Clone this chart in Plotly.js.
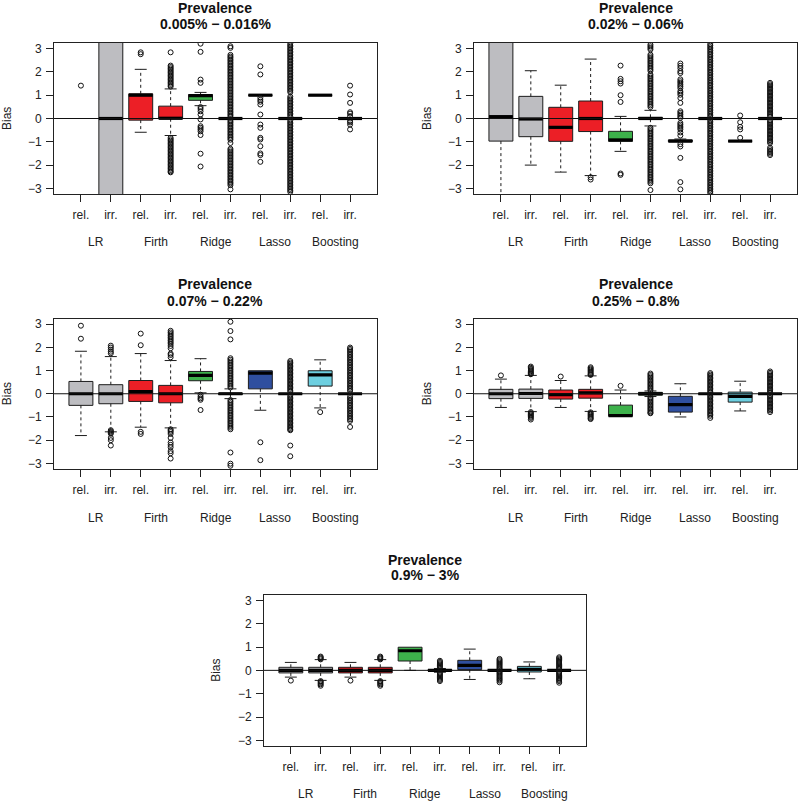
<!DOCTYPE html>
<html><head><meta charset="utf-8">
<script src="https://cdn.plot.ly/plotly-3.0.1.min.js"></script>
<style>html,body{margin:0;padding:0;background:#fff}#chart{width:800px;height:802px}</style>
</head><body><div id="chart"></div>
<script>
// ---------------- data ----------------
const positions = [1, 2, 3, 4, 5, 6, 7, 8, 9, 10];
const tickLabels = ['rel.', 'irr.', 'rel.', 'irr.', 'rel.', 'irr.', 'rel.', 'irr.', 'rel.', 'irr.'];
const groupLabels = ['LR', 'Firth', 'Ridge', 'Lasso', 'Boosting'];
const groupCenters = [1.5, 3.5, 5.5, 7.5, 9.5];
const yTickVals = [-3, -2, -1, 0, 1, 2, 3];
const titleLine1 = 'Prevalence';
const panelRanges = ['0.005% \u2212 0.016%', '0.02% \u2212 0.06%', '0.07% \u2212 0.22%', '0.25% \u2212 0.8%', '0.9% \u2212 3%'];
const yLabel = 'Bias';

// Panel 1: 0.005% - 0.016%
const p1Q1  = [null, -4, -0.07, -0.01, 0.78, 0, 1, 0, 1, 0];
const p1Med = [null, 0, 1.0, 0.01, 0.98, 0, 1, 0, 1, 0];
const p1Q3  = [null, 4, 1.06, 0.53, 1.03, 0, 1, 0, 1, 0];
const p1Lo  = [null, -4, -0.59, -0.73, 0.55, 0, 1, 0, 1, 0];
const p1Hi  = [null, 4, 2.11, 1.27, 1.12, 0, 1, 0, 1, 0];
const p1Out = [
  [1.41],
  [],
  [2.84, 2.76],
  [2.84, 2.27, 2.21, 2.15, 2.09, 2.03, 1.97, 1.91, 1.85, 1.79, 1.73, 1.67, 1.61, 1.55, 1.49, 1.43, 1.37,
   -0.83, -0.89, -0.95, -1.01, -1.07, -1.13, -1.19, -1.25, -1.31, -1.37, -1.43, -1.49, -1.55, -1.61, -1.67, -1.73, -1.79, -1.85, -1.91, -1.97, -2.03, -2.09, -2.15, -2.21, -2.27, -2.31],
  [3.21, 2.86, 1.67, 1.53, 0.49, 0.41, 0.31, 0.17, -0.04, -0.33, -0.4, -0.47, -0.55, -0.71, -1.51, -2.06],
  [3.1, 3.03, 2.73, 2.66, 2.6, 2.53, 2.47, 2.4, 2.34, 2.27, 2.21, 2.14, 2.08, 2.01, 1.95, 1.88, 1.82, 1.75, 1.69, 1.62, 1.56, 1.49, 1.43, 1.36, 1.3, 1.23, 1.17, 1.1, 1.04, 0.97, 0.91, 0.84, 0.78, 0.71, 0.65, 0.58, 0.52, 0.45, 0.39, 0.32, 0.26, 0.19, 0.13, 0.06,
   -0.06, -0.13, -0.19, -0.26, -0.32, -0.39, -0.45, -0.52, -0.58, -0.65, -0.71, -0.78, -0.84, -0.91, -1.05, -1.3, -1.36, -1.43, -1.49, -1.56, -1.62, -1.69, -1.75, -1.82, -1.88, -1.95, -2.01, -2.08, -2.14, -2.21, -2.27, -2.34, -2.4, -2.47, -2.53, -2.6, -2.66, -2.73, -2.79, -2.86, -3.04],
  [2.24, 1.89, 0.89, 0.8, 0.72, 0.6, 0.17, -0.26, -0.4, -0.83, -0.9, -1.19, -1.5, -1.57, -1.86],
  [3.21, 3.14, 3.08, 3.01, 2.95, 2.88, 2.82, 2.75, 2.69, 2.62, 2.56, 2.49, 2.43, 2.36, 2.3, 2.23, 2.17, 2.1, 2.04, 1.97, 1.91, 1.84, 1.78, 1.71, 1.65, 1.58, 1.52, 1.45, 1.39, 1.32, 1.26, 1.19, 1.13, 0.94, 0.87, 0.81, 0.74, 0.68, 0.61, 0.55, 0.48, 0.42, 0.35, 0.29, 0.22, 0.16, 0.09,
   -0.09, -0.16, -0.22, -0.29, -0.35, -0.42, -0.48, -0.55, -0.61, -0.68, -0.74, -0.81, -0.87, -0.94, -1.0, -1.07, -1.13, -1.2, -1.26, -1.33, -1.39, -1.46, -1.52, -1.59, -1.65, -1.72, -1.78, -1.85, -1.91, -1.98, -2.04, -2.11, -2.17, -2.24, -2.3, -2.37, -2.43, -2.5, -2.56, -2.63, -2.69, -2.76, -2.82, -2.89, -2.95, -3.02, -3.08, -3.15],
  [],
  [1.41, 1.03, 0.67, 0.27, 0.21, 0.1, -0.11, -0.17, -0.26, -0.47]
];

// Panel 2: 0.02% - 0.06%
const p2Q1  = [-0.97, -0.78, -0.98, -0.56, -0.98, -0.03, -1.0, 0, -0.97, 0];
const p2Med = [0.08, -0.02, -0.38, 0.0, -0.92, 0.0, -0.97, 0, -0.97, 0];
const p2Q3  = [4, 0.95, 0.48, 0.75, -0.55, 0.05, -0.92, 0, -0.97, 0];
const p2Lo  = [-4, -2.0, -2.3, -2.45, -1.41, -0.32, -1.0, 0, -0.97, 0];
const p2Hi  = [4, 2.05, 1.43, 2.55, 0.09, 0.35, -0.88, 0, -0.97, 0];
const p2Out = [
  [],
  [],
  [],
  [-2.52, -2.62],
  [2.27, 1.7, 1.6, 1.5, 1.0, 0.71, -2.36, -2.42],
  [3.17, 3.1, 3.03, 2.96, 2.74, 2.67, 2.6, 2.53, 2.46, 2.39, 2.32, 2.25, 2.18, 2.11, 2.04, 1.89, 1.82, 1.75, 1.68, 1.61, 1.54, 1.47, 1.4, 1.33, 1.26, 1.19, 1.12, 1.05, 0.98, 0.91, 0.84, 0.77, 0.7, 0.63, 0.56, 0.49,
   -0.4, -0.47, -0.54, -0.61, -0.68, -0.75, -0.82, -0.89, -0.96, -1.03, -1.1, -1.17, -1.24, -1.31, -1.38, -1.45, -1.52, -1.59, -1.66, -1.73, -1.8, -1.87, -1.94, -2.01, -2.08, -2.15, -2.22, -2.29, -2.36, -2.43, -2.5, -2.57, -2.64, -2.71, -2.78, -3.07],
  [2.36, 2.26, 2.16, 2.03, 1.95, 1.68, 1.6, 1.53, 1.45, 1.38, 1.3, 1.17, 1.1, 1.02, 0.88, 0.67, 0.31, 0.24, 0.17, 0.1, 0.03, -0.19, -0.26, -0.33, -0.4, -0.47, -0.6, -0.73, -1.1, -1.2, -1.69, -2.73, -3.04],
  [3.2, 3.13, 3.06, 2.99, 2.92, 2.85, 2.78, 2.71, 2.64, 2.57, 2.5, 2.43, 2.36, 2.29, 2.22, 2.15, 2.08, 2.01, 1.94, 1.87, 1.8, 1.73, 1.66, 1.59, 1.52, 1.45, 1.38, 1.31, 1.24, 1.17, 1.1, 1.03, 0.96, 0.89, 0.82, 0.75, 0.68, 0.61, 0.54, 0.47, 0.4, 0.33, 0.26, 0.19, 0.12, 0.05,
   -0.05, -0.12, -0.19, -0.26, -0.33, -0.4, -0.47, -0.54, -0.61, -0.68, -0.75, -0.82, -0.89, -0.96, -1.03, -1.1, -1.17, -1.24, -1.31, -1.38, -1.45, -1.52, -1.59, -1.66, -1.73, -1.8, -1.87, -1.94, -2.01, -2.08, -2.15, -2.22, -2.29, -2.36, -2.43, -2.5, -2.57, -2.64, -2.71, -2.78, -2.85, -2.92, -2.99, -3.06, -3.13, -3.2],
  [0.13, -0.16, -0.36, -0.47, -0.83],
  [1.53, 1.47, 1.41, 1.35, 1.29, 1.23, 1.17, 1.11, 1.05, 0.99, 0.93, 0.87, 0.81, 0.75, 0.69, 0.63, 0.57, 0.51, 0.45, 0.39, 0.33, 0.27, 0.21, 0.15, 0.09,
   -0.09, -0.15, -0.21, -0.27, -0.33, -0.39, -0.45, -0.51, -0.57, -0.63, -0.69, -0.75, -0.81, -0.87, -0.93, -0.99, -1.05, -1.25, -1.32, -1.39, -1.45, -1.51, -1.57]
];

// Panel 3: 0.07% - 0.22%
const p3Q1  = [-0.5, -0.43, -0.33, -0.39, 0.56, -0.03, 0.21, 0, 0.33, 0];
const p3Med = [0, 0, 0.09, 0, 0.79, 0, 0.89, 0, 0.81, 0];
const p3Q3  = [0.53, 0.39, 0.57, 0.36, 0.96, 0.03, 0.99, 0, 0.99, 0];
const p3Lo  = [-1.8, -1.64, -1.44, -1.47, 0.04, -0.21, -0.71, 0, -0.61, 0];
const p3Hi  = [1.83, 1.6, 1.73, 1.43, 1.51, 0.21, 0.99, 0, 1.46, 0];
const p3Out = [
  [2.93, 2.37],
  [2.07, 1.99, 1.9, 1.81, 1.74, -1.57, -1.62, -1.67, -1.72, -1.9, -2.0, -2.23],
  [2.59, 2.09, -1.64, -1.73],
  [2.71, 2.64, 2.57, 2.5, 2.43, 2.36, 2.29, 2.22, 2.15, 2.06, 1.96, 1.73, 1.67, 1.57,
   -1.53, -1.59, -1.65, -1.73, -1.9, -2.1, -2.2, -2.3, -2.47, -2.56, -2.79],
  [-0.04, -0.13, -0.2, -0.26, -0.7],
  [3.1, 2.7, 2.34, 1.53, 1.46, 1.39, 1.32, 1.25, 1.18, 1.11, 1.04, 0.97, 0.9, 0.83, 0.76, 0.69, 0.62, 0.55, 0.48, 0.41, 0.34, 0.27,
   -0.27, -0.34, -0.41, -0.48, -0.55, -0.62, -0.69, -0.76, -0.83, -0.9, -0.97, -1.04, -1.11, -1.18, -1.25, -1.32, -1.39, -1.46, -1.53, -2.53, -3.01, -3.1],
  [-2.09, -2.86],
  [1.41, 1.35, 1.29, 1.23, 1.17, 1.11, 1.05, 0.99, 0.93, 0.87, 0.81, 0.75, 0.69, 0.63, 0.57, 0.51, 0.45, 0.39, 0.33, 0.27, 0.21, 0.15, 0.09,
   -0.09, -0.15, -0.21, -0.27, -0.33, -0.39, -0.45, -0.51, -0.57, -0.63, -0.69, -0.75, -0.81, -0.87, -0.93, -0.99, -1.05, -1.11, -1.17, -1.23, -1.29, -1.35, -1.41, -1.47, -1.53, -1.57, -2.23, -2.69],
  [-0.79],
  [1.99, 1.93, 1.87, 1.8, 1.73, 1.66, 1.59, 1.52, 1.45, 1.38, 1.31, 1.24, 1.17, 1.1, 1.03, 0.96, 0.89, 0.82, 0.75, 0.68, 0.61, 0.54, 0.47, 0.4, 0.33, 0.26, 0.19, 0.12,
   -0.12, -0.19, -0.26, -0.33, -0.4, -0.47, -0.54, -0.61, -0.68, -0.75, -0.82, -0.89, -0.96, -1.03, -1.1, -1.17, -1.43]
];

// Panel 4: 0.25% - 0.8%
const p4Q1  = [-0.21, -0.2, -0.23, -0.19, -0.97, -0.06, -0.79, 0, -0.36, 0];
const p4Med = [0, 0.01, -0.04, 0.04, -0.94, 0, -0.47, 0, -0.11, 0];
const p4Q3  = [0.19, 0.2, 0.16, 0.19, -0.49, 0.06, -0.11, 0, 0.07, 0];
const p4Lo  = [-0.59, -0.77, -0.59, -0.76, -0.97, -0.12, -1.0, 0, -0.74, 0];
const p4Hi  = [0.63, 0.79, 0.57, 0.77, 0.16, 0.12, 0.43, 0, 0.54, 0];
const p4Out = [
  [0.79],
  [1.17, 1.12, 1.07, 1.02, 0.97, 0.92, 0.87, 0.84, -0.79, -0.84, -0.89, -0.94, -0.99, -1.04, -1.11],
  [0.74],
  [1.14, 1.09, 1.04, 0.99, 0.94, 0.89, 0.84, 0.81, -0.8, -0.85, -0.9, -0.95, -1.0, -1.05, -1.09],
  [0.34],
  [0.87, 0.81, 0.75, 0.69, 0.63, 0.57, 0.51, 0.45, 0.39, 0.33, 0.27, 0.21, 0.15,
   -0.15, -0.21, -0.27, -0.33, -0.39, -0.45, -0.51, -0.57, -0.63, -0.69, -0.75, -0.81, -0.84],
  [],
  [0.89, 0.83, 0.77, 0.71, 0.65, 0.59, 0.53, 0.47, 0.41, 0.35, 0.29, 0.23, 0.17, 0.11, 0.05,
   -0.05, -0.11, -0.17, -0.23, -0.29, -0.35, -0.41, -0.47, -0.53, -0.59, -0.65, -0.71, -0.77, -0.83, -0.89, -0.95, -1.04],
  [],
  [0.96, 0.9, 0.84, 0.78, 0.72, 0.66, 0.6, 0.54, 0.48, 0.42, 0.36, 0.3, 0.24, 0.18, 0.12, 0.06,
   -0.06, -0.12, -0.18, -0.24, -0.3, -0.36, -0.42, -0.48, -0.54, -0.6, -0.66, -0.72, -0.79]
];

// Panel 5: 0.9% - 3%
const p5Q1  = [-0.11, -0.11, -0.11, -0.11, 0.4, -0.03, 0.03, 0, -0.07, 0];
const p5Med = [0, 0, 0, 0, 0.84, 0, 0.21, 0, 0.04, 0];
const p5Q3  = [0.13, 0.13, 0.13, 0.13, 0.99, 0.03, 0.43, 0, 0.17, 0];
const p5Lo  = [-0.29, -0.43, -0.29, -0.43, 0, -0.08, -0.39, 0, -0.36, 0];
const p5Hi  = [0.34, 0.46, 0.34, 0.46, 0.99, 0.08, 0.91, 0, 0.36, 0];
const p5Out = [
  [-0.44],
  [0.59, 0.55, 0.51, 0.47, -0.46, -0.5, -0.55, -0.6, -0.66],
  [-0.44],
  [0.59, 0.55, 0.51, 0.47, -0.46, -0.5, -0.55, -0.6, -0.66],
  [],
  [0.41, 0.36, 0.31, 0.26, 0.21, 0.16, 0.11, -0.11, -0.16, -0.21, -0.26, -0.31, -0.36, -0.41, -0.46],
  [],
  [0.49, 0.44, 0.39, 0.34, 0.29, 0.24, 0.19, 0.14, 0.09, 0.04, -0.04, -0.09, -0.14, -0.19, -0.24, -0.29, -0.34, -0.39, -0.44, -0.51],
  [],
  [0.56, 0.51, 0.46, 0.41, 0.36, 0.31, 0.26, 0.21, 0.16, 0.11, 0.06, -0.06, -0.11, -0.16, -0.21, -0.26, -0.31, -0.36, -0.41, -0.46, -0.53]
];

// ---------------- styles / layout geometry ----------------
const methodColors = ['#bdbdc1', '#ec1f26', '#3db14b', '#2f4f9f', '#6dcfe0'];
const FONT = 'Liberation Sans, Arial, Helvetica, sans-serif';
const W = 800, H = 802;
// pixel boxes of each plot region [left, right, top, bottom]
const panelBoxes = [
  [54, 377, 43, 194],
  [474, 797, 43, 194],
  [54, 377, 318.5, 469],
  [474, 797, 318.5, 469],
  [264, 586, 594.7, 746]
];
const titleY = [[7.7, 24.2], [7.7, 24.2], [283.7, 300.7], [283.7, 300.7], [560.3, 574.7]];
const groupY = [242, 242, 518, 518, 794];

const panels = [
  {q1: p1Q1, med: p1Med, q3: p1Q3, lo: p1Lo, hi: p1Hi, out: p1Out},
  {q1: p2Q1, med: p2Med, q3: p2Q3, lo: p2Lo, hi: p2Hi, out: p2Out},
  {q1: p3Q1, med: p3Med, q3: p3Q3, lo: p3Lo, hi: p3Hi, out: p3Out},
  {q1: p4Q1, med: p4Med, q3: p4Q3, lo: p4Lo, hi: p4Hi, out: p4Out},
  {q1: p5Q1, med: p5Med, q3: p5Q3, lo: p5Lo, hi: p5Hi, out: p5Out}
];

const BOXW = 0.8, CAPW = 0.2;
const traces = [];
const layout = {
  width: W, height: H, margin: {l: 0, r: 0, t: 0, b: 0},
  paper_bgcolor: '#fff', plot_bgcolor: '#fff', showlegend: false,
  boxmode: 'overlay', annotations: [], shapes: []
};
const py = p => 1 - p / H;
const px = p => p / W;

panels.forEach((P, k) => {
  const sfx = k === 0 ? '' : String(k + 1);
  const xa = 'x' + sfx, ya = 'y' + sfx;
  const [L, R, T, B] = panelBoxes[k];

  for (let i = 0; i < positions.length; i++) {
    if (P.q1[i] === null) continue;
    traces.push({
      type: 'box', xaxis: xa, yaxis: ya, x: [positions[i]],
      q1: [P.q1[i]], median: [P.med[i]], q3: [P.q3[i]],
      lowerfence: [P.q1[i]], upperfence: [P.q3[i]],
      width: BOXW, whiskerwidth: 0, boxpoints: false,
      fillcolor: methodColors[Math.floor(i / 2)],
      line: {color: '#1c1c1c', width: 1}, hoverinfo: 'skip'
    });
  }
  // whiskers (dashed), caps, medians
  const wx = [], wy = [], cx = [], cy = [], mx = [], my = [];
  for (let i = 0; i < positions.length; i++) {
    if (P.q1[i] === null) continue;
    const p = positions[i];
    if (P.hi[i] > P.q3[i]) {
      wx.push(p, p, null); wy.push(P.q3[i], P.hi[i], null);
      cx.push(p - CAPW, p + CAPW, null); cy.push(P.hi[i], P.hi[i], null);
    }
    if (P.lo[i] < P.q1[i]) {
      wx.push(p, p, null); wy.push(P.q1[i], P.lo[i], null);
      cx.push(p - CAPW, p + CAPW, null); cy.push(P.lo[i], P.lo[i], null);
    }
    mx.push(p - BOXW / 2, p + BOXW / 2, null); my.push(P.med[i], P.med[i], null);
  }
  traces.push({type: 'scatter', mode: 'lines', xaxis: xa, yaxis: ya, x: wx, y: wy,
    line: {color: '#1c1c1c', width: 1, dash: '3px,3px'}, hoverinfo: 'skip', connectgaps: false});
  traces.push({type: 'scatter', mode: 'lines', xaxis: xa, yaxis: ya, x: cx, y: cy,
    line: {color: '#1c1c1c', width: 1}, hoverinfo: 'skip', connectgaps: false});
  traces.push({type: 'scatter', mode: 'lines', xaxis: xa, yaxis: ya, x: mx, y: my,
    line: {color: '#000', width: 3.2}, hoverinfo: 'skip', connectgaps: false});
  // outliers
  const ox = [], oy = [];
  P.out.forEach((vals, i) => vals.forEach(v => { ox.push(positions[i]); oy.push(v); }));
  traces.push({type: 'scatter', mode: 'markers', xaxis: xa, yaxis: ya, x: ox, y: oy,
    marker: {symbol: 'circle-open', size: 5, color: '#111', line: {width: 1, color: '#111'}},
    hoverinfo: 'skip'});

  layout['xaxis' + sfx] = {
    domain: [px(L), px(R)], anchor: ya, range: [0.1, 10.9],
    tickmode: 'array', tickvals: positions, ticktext: tickLabels,
    ticks: 'outside', ticklen: 7, tickwidth: 1, tickcolor: '#222',
    showline: true, mirror: true, linecolor: '#222', linewidth: 1,
    showgrid: false, zeroline: false, ticklabelstandoff: 3,
    tickfont: {family: FONT, size: 12, color: '#222'}, fixedrange: true
  };
  layout['yaxis' + sfx] = {
    domain: [py(B), py(T)], anchor: xa, range: [-3.24, 3.24],
    tickmode: 'array', tickvals: yTickVals,
    ticks: 'outside', ticklen: 7, tickwidth: 1, tickcolor: '#222',
    showline: true, mirror: true, linecolor: '#222', linewidth: 1,
    showgrid: false, zeroline: false, ticklabelstandoff: 2,
    tickfont: {family: FONT, size: 12, color: '#222'}, fixedrange: true
  };
  layout.shapes.push({type: 'line', xref: xa + ' domain', yref: ya, x0: 0, x1: 1, y0: 0, y1: 0,
    line: {color: '#111', width: 1}, layer: 'above'});

  const cxp = px((L + R) / 2);
  layout.annotations.push({xref: 'paper', yref: 'paper', x: cxp, y: py(titleY[k][0]), xanchor: 'center', yanchor: 'middle',
    text: '<b>' + titleLine1 + '</b>', showarrow: false, font: {family: FONT, size: 14, color: '#111'}});
  layout.annotations.push({xref: 'paper', yref: 'paper', x: cxp, y: py(titleY[k][1]), xanchor: 'center', yanchor: 'middle',
    text: '<b>' + panelRanges[k] + '</b>', showarrow: false, font: {family: FONT, size: 14, color: '#111'}});
  layout.annotations.push({xref: 'paper', yref: 'paper', x: px(L - 47.5), y: py((T + B) / 2), xanchor: 'center', yanchor: 'middle',
    text: yLabel, textangle: -90, showarrow: false, font: {family: FONT, size: 12, color: '#222'}});
  groupLabels.forEach((g, j) => {
    layout.annotations.push({xref: xa, yref: 'paper', x: groupCenters[j], y: py(groupY[k]), xanchor: 'center', yanchor: 'middle',
      text: g, showarrow: false, font: {family: FONT, size: 12, color: '#222'}});
  });
});

Plotly.newPlot('chart', traces, layout, {staticPlot: true, displayModeBar: false});
</script>
</body></html>
